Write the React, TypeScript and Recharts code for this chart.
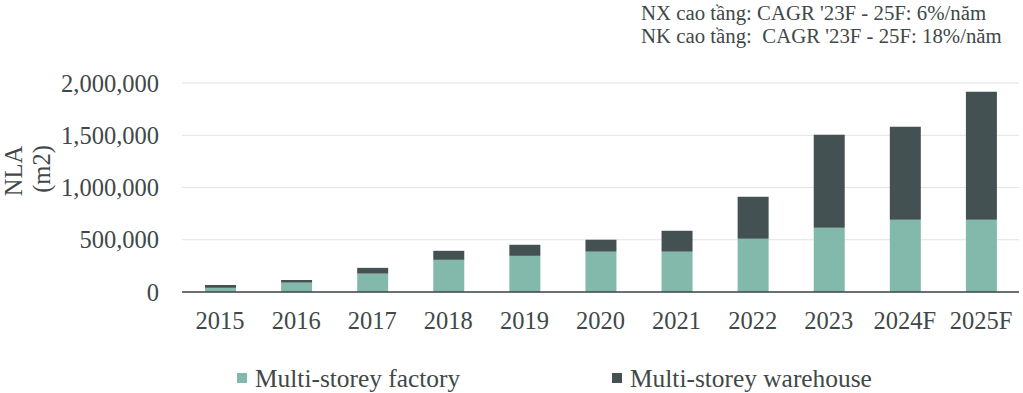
import { BarChart, Bar, XAxis, YAxis, CartesianGrid } from "recharts";

// ── Data ──────────────────────────────────────────────────────────────────────

const YEARS = ["2015", "2016", "2017", "2018", "2019", "2020", "2021", "2022", "2023", "2024F", "2025F"];
const FACTORY = [40000, 90000, 176000, 308000, 346000, 386000, 386000, 510000, 615000, 692000, 692000];
const WAREHOUSE = [27000, 25000, 55000, 86000, 106000, 114000, 200000, 402000, 890000, 890000, 1225000];
const Y_TICKS = [0, 500000, 1000000, 1500000, 2000000];
const NOTES = ["NX cao tầng: CAGR '23F - 25F: 6%/năm", "NK cao tầng:  CAGR '23F - 25F: 18%/năm"];
const LEGEND = [
  { label: "Multi-storey factory", key: "factory" },
  { label: "Multi-storey warehouse", key: "warehouse" },
];

const FONT = "'Liberation Serif', 'Times New Roman', serif";
const TEXT = "#3F4848";
const GREEN = "#82B9AB";
const DARK = "#435153";

const chartData = YEARS.map((y, i) => ({ year: y, factory: FACTORY[i], warehouse: WAREHOUSE[i] }));

// ── Y axis title (two lines, rotated) ─────────────────────────────────────────

function YTitle() {
  return (
    <g fill={TEXT} fontFamily={FONT} fontSize={24.5}>
      <text transform="translate(13,171) rotate(-90)" textAnchor="middle" dominantBaseline="central">NLA</text>
      <text transform="translate(41,169) rotate(-90)" textAnchor="middle" dominantBaseline="central">(m2)</text>
    </g>
  );
}

// ── Component ─────────────────────────────────────────────────────────────────

export default function App() {
  const legendPos = [237, 612];
  return (
    <div style={{ position: "absolute", left: 0, top: 0, width: 1023, height: 393, background: "#fff" }}>
      {/* top-right note */}
      <div style={{ position: "absolute", left: 641, top: 1, fontFamily: FONT, fontSize: 20.8, lineHeight: "23px", color: TEXT, whiteSpace: "pre" }}>
        {NOTES.map((n) => (
          <div key={n}>{n}</div>
        ))}
      </div>

      <BarChart
        width={1023}
        height={393}
        data={chartData}
        margin={{ top: 83, right: 4, bottom: 0, left: 0 }}
        barSize={31}
      >
        <CartesianGrid vertical={false} stroke="#E2E2E2" />
        <XAxis
          dataKey="year"
          axisLine={{ stroke: "#3D4646", strokeWidth: 1.5 }}
          tickLine={false}
          tickMargin={14}
          height={101}
          tick={{ fill: TEXT, fontSize: 24.5, fontFamily: FONT }}
        />
        <YAxis
          domain={[0, 2000000]}
          ticks={Y_TICKS}
          width={182}
          axisLine={false}
          tickLine={false}
          tickMargin={17}
          tick={{ fill: TEXT, fontSize: 24.5, fontFamily: FONT }}
          tickFormatter={(v: number) => v.toLocaleString("en-US")}
        />
        <Bar dataKey="factory" stackId="a" fill={GREEN} isAnimationActive={false} />
        <Bar dataKey="warehouse" stackId="a" fill={DARK} isAnimationActive={false} />
        <YTitle />
      </BarChart>

      {/* legend */}
      {LEGEND.map((it, i) => (
        <div
          key={it.key}
          style={{
            position: "absolute", left: legendPos[i], top: 363, height: 30,
            display: "flex", alignItems: "center", whiteSpace: "nowrap",
            fontFamily: FONT, fontSize: 25.4, color: TEXT,
          }}
        >
          <span style={{ display: "inline-block", width: 10, height: 10, background: i === 0 ? GREEN : DARK, marginRight: 8 }} />
          <span style={{ lineHeight: "30px" }}>{it.label}</span>
        </div>
      ))}
    </div>
  );
}
